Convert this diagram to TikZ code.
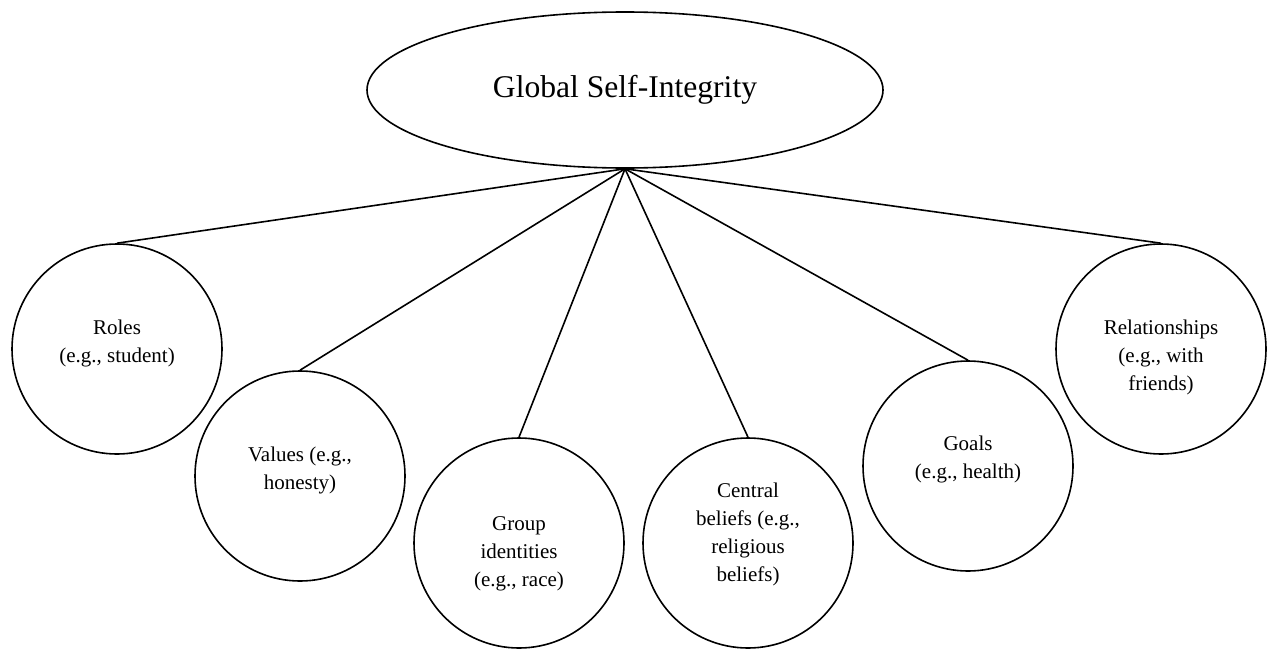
\documentclass[tikz,border=0pt]{standalone}
\usepackage{fontspec}
\setmainfont{Liberation Serif}
\usetikzlibrary{shapes.geometric}
\begin{document}
\begin{tikzpicture}[x=0.5pt,y=-0.5pt,
  bubble/.style={draw, circle, line width=0.8pt, minimum size=105pt, inner sep=0pt, align=center, font=\fontsize{10.5}{14}\selectfont},
  up/.style={text depth=2.3pt+#1pt},
  downthree/.style={text height=35.2pt+#1pt},
  link/.style={line width=0.8pt}]
\useasboundingbox (0,0) rectangle (1268,648);
\node[draw, ellipse, line width=0.8pt, minimum width=258pt, minimum height=78pt, inner sep=0pt, font=\fontsize{15.8}{19}\selectfont] (g) at (625,90) {Global Self-Integrity};
\node[bubble, up=5] (roles) at (117,349) {Roles\\(e.g., student)};
\node[bubble, up=5] (values) at (300,476) {Values (e.g.,\\honesty)};
\node[bubble, downthree=11] (group) at (519,543) {Group\\identities\\(e.g., race)};
\node[bubble, up=8] (central) at (748,543) {Central\\beliefs (e.g.,\\religious\\beliefs)};
\node[bubble, up=6] (goals) at (968,466) {Goals\\(e.g., health)};
\node[bubble, downthree=9] (rel) at (1161,349) {Relationships\\(e.g., with\\friends)};
\foreach \n in {roles,values,group,central,goals,rel}
  \draw[link] (g.south) -- (\n.north);
\end{tikzpicture}
\end{document}
